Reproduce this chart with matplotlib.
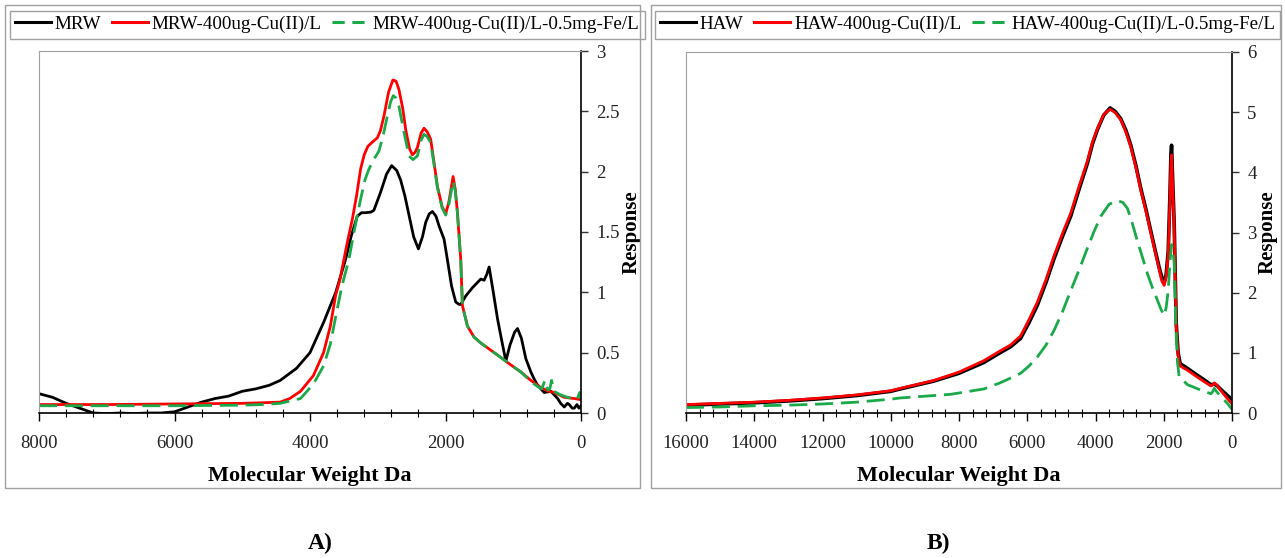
import matplotlib.pyplot as plt
from matplotlib.patches import Rectangle
from matplotlib.lines import Line2D
from matplotlib.ticker import MultipleLocator

plt.rcParams['font.family'] = ['Liberation Serif', 'DejaVu Serif']

# ---- panel A data (Molecular weight Da, response)
mrw_x = [8000, 7800, 7600, 7400, 7200, 7000, 6800, 6600, 6400, 6200, 6000, 5800, 5600, 5400,
         5200, 5000, 4800, 4600, 4440, 4200, 4000, 3800, 3620, 3476, 3390, 3303, 3240, 3180,
         3100, 3057, 2958, 2870, 2795, 2720, 2662, 2600, 2539, 2470, 2400, 2340, 2292, 2240,
         2193, 2140, 2095, 2021, 1972, 1910, 1849, 1800, 1775, 1701, 1600, 1479, 1430, 1390,
         1356, 1300, 1232, 1170, 1109, 1050, 980, 937, 880, 814, 740, 690, 641, 543, 444, 345,
         300, 247, 200, 173, 130, 99, 60, 30, 0]
mrw_y = [0.16, 0.13, 0.08, 0.04, 0.0, -0.005, 0.0, -0.005, 0.0, 0.0, 0.01, 0.05, 0.09, 0.12,
         0.14, 0.18, 0.20, 0.23, 0.27, 0.37, 0.50, 0.75, 1.0, 1.27, 1.47, 1.63, 1.66, 1.66,
         1.665, 1.68, 1.83, 1.98, 2.05, 2.01, 1.93, 1.80, 1.64, 1.46, 1.36, 1.46, 1.58, 1.65,
         1.67, 1.63, 1.55, 1.44, 1.27, 1.05, 0.92, 0.90, 0.90, 0.97, 1.04, 1.11, 1.10, 1.15,
         1.21, 1.02, 0.78, 0.60, 0.43, 0.56, 0.67, 0.70, 0.62, 0.45, 0.34, 0.28, 0.23, 0.17, 0.18,
         0.12, 0.08, 0.05, 0.08, 0.07, 0.04, 0.04, 0.07, 0.04, 0.06]

mrw_cu_x = [8000, 7000, 6000, 5000, 4700, 4440, 4300, 4140, 3950, 3800, 3700, 3620, 3560, 3500,
            3440, 3377, 3310, 3254, 3200, 3146, 3070, 3007, 2960, 2909, 2840, 2776, 2730, 2687,
            2630, 2588, 2530, 2489, 2450, 2415, 2360, 2317, 2270, 2219, 2170, 2120, 2050, 1997,
            1950, 1888, 1855, 1824, 1800, 1775, 1750, 1676, 1580, 1479, 1330, 1183, 1040, 887,
            740, 592, 480, 394, 247, 100, 0]
mrw_cu_y = [0.07, 0.07, 0.075, 0.08, 0.085, 0.09, 0.12, 0.18, 0.31, 0.50, 0.72, 0.98, 1.10, 1.27,
            1.44, 1.60, 1.81, 2.02, 2.14, 2.21, 2.25, 2.28, 2.34, 2.46, 2.66, 2.76, 2.75, 2.68,
            2.52, 2.35, 2.19, 2.14, 2.16, 2.20, 2.32, 2.36, 2.33, 2.27, 2.08, 1.88, 1.71, 1.65,
            1.75, 1.96, 1.85, 1.66, 1.47, 1.27, 0.89, 0.72, 0.63, 0.58, 0.52, 0.46, 0.40, 0.34,
            0.27, 0.21, 0.18, 0.17, 0.13, 0.12, 0.11]

mrw_fe_x = [8000, 7000, 6000, 5000, 4700, 4440, 4140, 3950, 3800, 3700, 3620, 3530, 3427, 3340,
            3254, 3190, 3131, 3060, 2983, 2920, 2859, 2810, 2770, 2730, 2687, 2610, 2539, 2480,
            2415, 2360, 2317, 2270, 2219, 2170, 2120, 2050, 1997, 1950, 1888, 1855, 1824, 1800,
            1775, 1750, 1676, 1580, 1479, 1330, 1183, 1040, 887, 740, 640, 580, 532, 490, 460,
            434, 400, 300, 200, 60, 20, 0]
mrw_fe_y = [0.06, 0.06, 0.06, 0.065, 0.07, 0.08, 0.12, 0.24, 0.39, 0.57, 0.80, 1.05, 1.27, 1.53,
            1.77, 1.93, 2.02, 2.10, 2.17, 2.30, 2.46, 2.58, 2.63, 2.61, 2.54, 2.32, 2.13, 2.10,
            2.13, 2.26, 2.31, 2.29, 2.24, 2.06, 1.87, 1.70, 1.64, 1.73, 1.92, 1.84, 1.66, 1.47,
            1.27, 0.89, 0.72, 0.63, 0.58, 0.52, 0.46, 0.40, 0.34, 0.26, 0.22, 0.20, 0.27, 0.19, 0.20,
            0.27, 0.18, 0.15, 0.13, 0.11, 0.17, 0.12]

# ---- panel B data
haw_x = [16000, 15000, 14000, 13000, 12000, 11000, 10000, 9720, 8740, 8000, 7270, 6800, 6490,
         6195, 5950, 5705, 5450, 5217, 4970, 4727, 4480, 4237, 4090, 3943, 3760, 3573, 3420,
         3259, 3110, 2965, 2820, 2672, 2520, 2378, 2250, 2134, 2060, 1988, 1930, 1870, 1820,
         1790, 1771, 1740, 1693, 1635, 1580, 1518, 1301, 1050, 813, 617, 519, 430, 323, 150, 0]
haw_y = [0.13, 0.15, 0.17, 0.20, 0.24, 0.29, 0.36, 0.40, 0.53, 0.66, 0.84, 1.0, 1.10,
         1.24, 1.50, 1.79, 2.17, 2.56, 2.93, 3.27, 3.72, 4.15, 4.47, 4.71, 4.95, 5.07, 5.01,
         4.89, 4.70, 4.45, 4.12, 3.73, 3.38, 3.02, 2.70, 2.42, 2.26, 2.18, 2.30, 2.68, 3.6,
         4.3, 4.45, 3.9, 3.13, 1.49, 1.0, 0.82, 0.74, 0.64, 0.55, 0.47, 0.48, 0.45, 0.39, 0.30, 0.22]

haw_cu_x = [16000, 15000, 14000, 13000, 12000, 11000, 10000, 9720, 8740, 8000, 7270, 6800, 6490,
            6195, 5950, 5705, 5450, 5217, 4970, 4727, 4480, 4237, 4090, 3943, 3760, 3573, 3420,
            3259, 3110, 2965, 2820, 2672, 2520, 2378, 2250, 2134, 2060, 1988, 1930, 1870, 1820,
            1790, 1771, 1740, 1693, 1635, 1580, 1518, 1301, 1050, 813, 617, 560, 519, 470, 323,
            150, 0]
haw_cu_y = [0.14, 0.16, 0.18, 0.21, 0.25, 0.30, 0.37, 0.41, 0.54, 0.68, 0.87, 1.03, 1.13,
            1.28, 1.55, 1.84, 2.22, 2.61, 2.98, 3.32, 3.77, 4.19, 4.50, 4.73, 4.96, 5.05, 4.99,
            4.87, 4.67, 4.42, 4.09, 3.70, 3.35, 2.99, 2.67, 2.38, 2.20, 2.12, 2.25, 2.62, 3.5,
            4.15, 4.29, 3.8, 3.05, 1.45, 0.95, 0.78, 0.71, 0.61, 0.52, 0.45, 0.47, 0.50, 0.48, 0.37,
            0.25, 0.15]

haw_fe_x = [16000, 15000, 14000, 13000, 12000, 11000, 10000, 9720, 8250, 7270, 6800, 6490, 6195,
            5950, 5705, 5450, 5217, 4970, 4727, 4480, 4237, 4040, 3846, 3600, 3357, 3200, 3063,
            2920, 2769, 2620, 2475, 2330, 2182, 2080, 1988, 1930, 1870, 1820, 1771, 1730, 1693,
            1650, 1600, 1547, 1301, 910, 617, 560, 519, 470, 323, 150, 0]
haw_fe_y = [0.09, 0.10, 0.12, 0.13, 0.15, 0.18, 0.23, 0.25, 0.31, 0.40, 0.50, 0.58, 0.66,
            0.78, 0.93, 1.13, 1.37, 1.68, 2.03, 2.38, 2.74, 3.02, 3.27, 3.47, 3.53, 3.50, 3.40,
            3.15, 2.85, 2.58, 2.31, 2.08, 1.87, 1.72, 1.62, 1.75, 2.03, 2.5, 2.80, 2.7, 2.47,
            1.49, 0.85, 0.60, 0.47, 0.38, 0.32, 0.36, 0.41, 0.37, 0.27, 0.17, 0.06]

labels_a = ['MRW', 'MRW-400ug-Cu(II)/L', 'MRW-400ug-Cu(II)/L-0.5mg-Fe/L']
labels_b = ['HAW', 'HAW-400ug-Cu(II)/L', 'HAW-400ug-Cu(II)/L-0.5mg-Fe/L']

W, H = 1285, 558
fig = plt.figure(figsize=(W / 100, H / 100), dpi=100)

black, red, green = '#000000', '#ff0000', '#1aaa4a'


def fx(px):
    return px / W


def fy(py):
    return 1 - py / H


# outer frames
for x0, x1 in [(5, 640), (651, 1281)]:
    fig.patches.append(Rectangle((fx(x0), fy(488)), fx(x1 - x0), (488 - 5) / H,
                                 transform=fig.transFigure, fill=False,
                                 edgecolor='#a0a0a0', lw=1.0))

axA = fig.add_axes([fx(39), fy(413), fx(581 - 39), (413 - 51) / H])
axB = fig.add_axes([fx(686), fy(413), fx(1232 - 686), (413 - 52) / H])

dash = (0, (6.5, 2.8))
lw = 2.0
axA.plot(mrw_x, mrw_y, color=black, lw=lw)
axA.plot(mrw_cu_x, mrw_cu_y, color=red, lw=lw)
axA.plot(mrw_fe_x, mrw_fe_y, color=green, lw=lw, ls=dash)
axB.plot(haw_x, haw_y, color=black, lw=lw + 0.6)
axB.plot(haw_cu_x, haw_cu_y, color=red, lw=lw)
axB.plot(haw_fe_x, haw_fe_y, color=green, lw=lw, ls=dash)

axA.set_xlim(8000, 0)
axA.set_ylim(0, 3)
axA.set_yticks([0, 0.5, 1, 1.5, 2, 2.5, 3])
axA.set_yticklabels(['0', '0.5', '1', '1.5', '2', '2.5', '3'])
axA.xaxis.set_major_locator(MultipleLocator(2000))

axB.set_xlim(16000, 0)
axB.set_ylim(0, 6)
axB.yaxis.set_major_locator(MultipleLocator(1))
axB.xaxis.set_major_locator(MultipleLocator(2000))

for ax in (axA, axB):
    ax.xaxis.set_minor_locator(MultipleLocator(400))
    ax.yaxis.tick_right()
    ax.yaxis.set_label_position('right')
    ax.spines['top'].set_color('#a0a0a0')
    ax.spines['left'].set_color('#a0a0a0')
    ax.spines['bottom'].set_linewidth(1.2)
    ax.spines['right'].set_linewidth(1.2)
    ax.tick_params(axis='y', direction='out', length=5, width=1, labelsize=13.5,
                   colors='#333333', labelcolor='#222222', pad=6)
    ax.tick_params(axis='x', which='major', direction='out', length=6, width=1,
                   labelsize=13.5, labelcolor='#222222', pad=10)
    ax.tick_params(axis='x', which='minor', direction='inout', length=6, width=0.8)
    ax.set_xlabel('Molecular Weight Da', fontsize=16, fontweight='bold', labelpad=10)
    ax.set_ylabel('Response', fontsize=15, fontweight='bold', labelpad=1,
                  rotation=90)

# legends
for labels, x0, x1 in [(labels_a, 10, 645), (labels_b, 655, 1280)]:
    fig.patches.append(Rectangle((fx(x0), fy(39)), fx(x1 - x0), 28 / H,
                                 transform=fig.transFigure, fill=False,
                                 edgecolor='#a0a0a0', lw=1.0))
    handles = [Line2D([], [], color=black, lw=2.2),
               Line2D([], [], color=red, lw=2.2),
               Line2D([], [], color=green, lw=2.2, ls=(0, (4, 2.5)))]
    fig.legend(handles, labels, loc='center left', bbox_to_anchor=(fx(x0 + 5), fy(24)),
               ncol=3, frameon=False, fontsize=13.7, handlelength=1.9,
               handletextpad=0.2, columnspacing=0.55, borderpad=0, borderaxespad=0)

fig.text(fx(320), fy(543), 'A)', fontsize=17, fontweight='bold', ha='center', va='center')
fig.text(fx(938), fy(543), 'B)', fontsize=17, fontweight='bold', ha='center', va='center')

fig.savefig('out.png', dpi=100)
